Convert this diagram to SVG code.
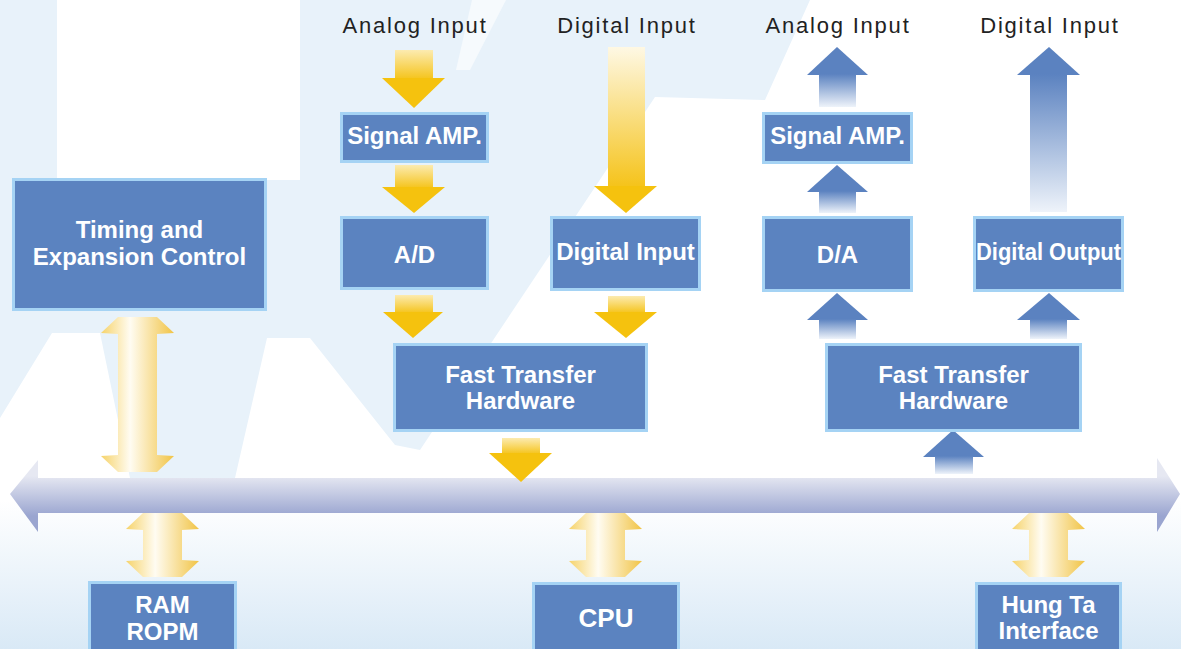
<svg xmlns="http://www.w3.org/2000/svg" width="1181" height="649" viewBox="0 0 1181 649">
  <defs>
    <linearGradient id="bgBottom" x1="0" y1="0" x2="0" y2="1">
      <stop offset="0" stop-color="#ffffff"/>
      <stop offset="1" stop-color="#d9e9f6"/>
    </linearGradient>
    <linearGradient id="busGrad" gradientUnits="userSpaceOnUse" x1="0" y1="476" x2="0" y2="516">
      <stop offset="0" stop-color="#e6e8f2"/>
      <stop offset="1" stop-color="#9aa5d0"/>
    </linearGradient>
    <linearGradient id="yShaft" x1="0" y1="0" x2="0" y2="1">
      <stop offset="0" stop-color="#fcebb0"/>
      <stop offset="1" stop-color="#f5c41c"/>
    </linearGradient>
    <linearGradient id="yShaftLong" x1="0" y1="0" x2="0" y2="1">
      <stop offset="0" stop-color="#fef8e4"/>
      <stop offset="1" stop-color="#f5c31a"/>
    </linearGradient>
    <linearGradient id="bShaft" x1="0" y1="0" x2="0" y2="1">
      <stop offset="0" stop-color="#5b82c0"/>
      <stop offset="1" stop-color="#eef3fa"/>
    </linearGradient>
    <linearGradient id="dbl" x1="0" y1="0" x2="1" y2="0">
      <stop offset="0" stop-color="#f6d36a"/>
      <stop offset="0.4" stop-color="#fffcf2"/>
      <stop offset="1" stop-color="#f1c446"/>
    </linearGradient>
    <style>
      .box { fill: #5b83c0; stroke: #a5d3f4; stroke-width: 3; }
      .bt { font-family: "Liberation Sans", Arial, sans-serif; font-weight: bold; font-size: 24px; fill: #ffffff; text-anchor: middle; }
      .lbl { font-family: "Liberation Sans", Arial, sans-serif; font-size: 22px; fill: #222222; text-anchor: middle; letter-spacing: 1.8px; }
      .yhead { fill: #f5c20e; }
      .bhead { fill: #5b82c0; }
    </style>
  </defs>

  <!-- background -->
  <rect x="0" y="0" width="1181" height="649" fill="#ffffff"/>
  <polygon points="0,0 810,0 765,100 655,97 420,450 395,445 310,338 267,338 235,478 130,478 100,333 52,333 0,418" fill="#e8f2fa"/>
  <rect x="57" y="0" width="243" height="180" fill="#ffffff"/>
  <polygon points="472,0 506,0 470,70 456,70" fill="#f6fafd"/>
  <rect x="0" y="500" width="1181" height="149" fill="url(#bgBottom)"/>

  <!-- connectors -->
  <g id="connectors">
    <!-- bus -->
    <polygon points="10,494 38,460 38,478 1157,478 1157,458 1180,494 1157,532 1157,513 38,513 38,532" fill="url(#busGrad)"/>

    <!-- yellow down arrows -->
    <rect x="395" y="50" width="38" height="29" fill="url(#yShaft)"/>
    <polygon class="yhead" points="382,78 445,78 414,108"/>
    <rect x="395" y="165" width="38" height="23" fill="url(#yShaft)"/>
    <polygon class="yhead" points="382,187 445,187 414,213"/>
    <rect x="395" y="295" width="38" height="18" fill="url(#yShaft)"/>
    <polygon class="yhead" points="383,312 443,312 413,338"/>
    <rect x="608" y="47" width="37" height="140" fill="url(#yShaftLong)"/>
    <polygon class="yhead" points="594,186 657,186 626,213"/>
    <rect x="608" y="296" width="37" height="17" fill="url(#yShaft)"/>
    <polygon class="yhead" points="594,312 657,312 626,338"/>
    <rect x="502" y="438" width="38" height="16" fill="url(#yShaft)"/>
    <polygon class="yhead" points="489,453 552,453 521,482"/>

    <!-- blue up arrows -->
    <polygon class="bhead" points="837,47 868,75 807,75"/>
    <rect x="819" y="74" width="37" height="33" fill="url(#bShaft)"/>
    <polygon class="bhead" points="837,165 868,192 807,192"/>
    <rect x="819" y="191" width="37" height="22" fill="url(#bShaft)"/>
    <polygon class="bhead" points="837,293 868,320 807,320"/>
    <rect x="819" y="319" width="37" height="20" fill="url(#bShaft)"/>
    <polygon class="bhead" points="1049,47 1080,75 1017,75"/>
    <rect x="1030" y="74" width="37" height="138" fill="url(#bShaft)"/>
    <polygon class="bhead" points="1049,293 1080,320 1017,320"/>
    <rect x="1030" y="319" width="37" height="20" fill="url(#bShaft)"/>
    <polygon class="bhead" points="953,430 984,457 923,457"/>
    <rect x="935" y="456" width="38" height="18" fill="url(#bShaft)"/>

    <!-- yellow double arrows -->
    <polygon fill="url(#dbl)" points="118,317 157,317 174,333 157,334 157,455 174,456 157,472 118,472 101,456 118,455 118,334 101,333"/>
    <polygon fill="url(#dbl)" points="143,513 182,513 199,529 182,530 182,560 199,561 182,577 143,577 126,561 143,560 143,530 126,529"/>
    <polygon fill="url(#dbl)" points="586,513 625,513 642,529 625,530 625,560 642,561 625,577 586,577 569,561 586,560 586,530 569,529"/>
    <polygon fill="url(#dbl)" points="1029,513 1068,513 1085,529 1068,530 1068,560 1085,561 1068,577 1029,577 1012,561 1029,560 1029,530 1012,529"/>
  </g>

  <!-- top labels -->
  <text class="lbl" x="415" y="33">Analog Input</text>
  <text class="lbl" x="627" y="33">Digital Input</text>
  <text class="lbl" x="838" y="33">Analog Input</text>
  <text class="lbl" x="1050" y="33">Digital Input</text>

  <!-- nodes -->
  <g id="timing">
    <rect class="box" x="13.5" y="179.5" width="252" height="130"/>
    <text class="bt" x="139.5" y="238">Timing and</text>
    <text class="bt" x="139.5" y="265">Expansion Control</text>
  </g>
  <g id="signal-amp-in">
    <rect class="box" x="341.5" y="113.5" width="146" height="48"/>
    <text class="bt" x="414.5" y="144">Signal AMP.</text>
  </g>
  <g id="ad">
    <rect class="box" x="341.5" y="217.5" width="146" height="71"/>
    <text class="bt" x="414.5" y="263">A/D</text>
  </g>
  <g id="digital-input">
    <rect class="box" x="551.5" y="217.5" width="148" height="72"/>
    <text class="bt" x="625.5" y="260">Digital Input</text>
  </g>
  <g id="signal-amp-out">
    <rect class="box" x="763.5" y="113.5" width="148" height="49"/>
    <text class="bt" x="837.5" y="144">Signal AMP.</text>
  </g>
  <g id="da">
    <rect class="box" x="763.5" y="217.5" width="148" height="73"/>
    <text class="bt" x="837.5" y="263">D/A</text>
  </g>
  <g id="digital-output">
    <rect class="box" x="974.5" y="217.5" width="148" height="73"/>
    <text class="bt" x="1048.5" y="260" textLength="145" lengthAdjust="spacingAndGlyphs">Digital Output</text>
  </g>
  <g id="fast-transfer-in">
    <rect class="box" x="394.5" y="344.5" width="252" height="86"/>
    <text class="bt" x="520.5" y="383">Fast Transfer</text>
    <text class="bt" x="520.5" y="409">Hardware</text>
  </g>
  <g id="fast-transfer-out">
    <rect class="box" x="826.5" y="344.5" width="254" height="86"/>
    <text class="bt" x="953.5" y="383">Fast Transfer</text>
    <text class="bt" x="953.5" y="409">Hardware</text>
  </g>
  <g id="ram">
    <rect class="box" x="89.5" y="582.5" width="146" height="80"/>
    <text class="bt" x="162.5" y="613">RAM</text>
    <text class="bt" x="162.5" y="640">ROPM</text>
  </g>
  <g id="cpu">
    <rect class="box" x="533.5" y="583.5" width="145" height="80"/>
    <text class="bt" x="606" y="627" style="font-size:26px">CPU</text>
  </g>
  <g id="hungta">
    <rect class="box" x="976.5" y="583.5" width="144" height="80"/>
    <text class="bt" x="1048.5" y="613">Hung Ta</text>
    <text class="bt" x="1048.5" y="639">Interface</text>
  </g>
</svg>
